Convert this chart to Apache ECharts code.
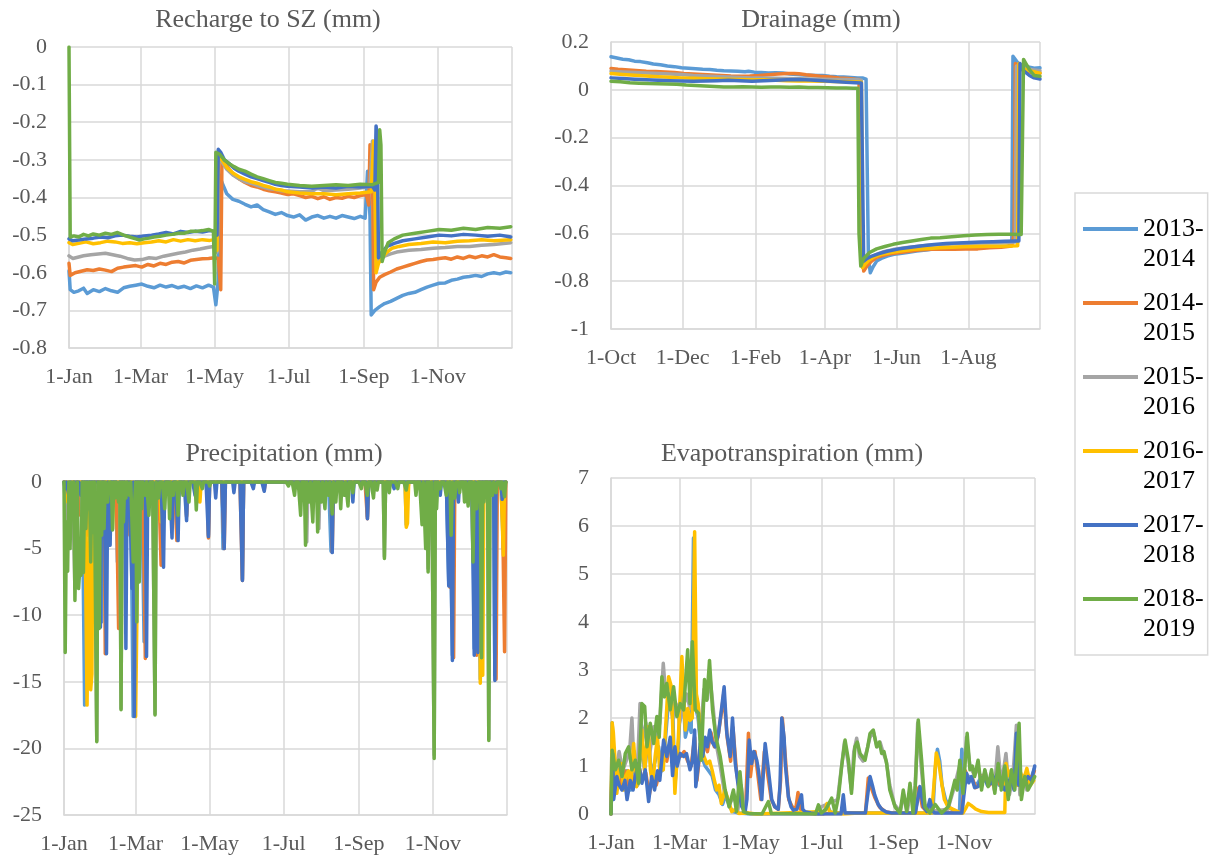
<!DOCTYPE html>
<html><head><meta charset="utf-8">
<script src="https://cdn.jsdelivr.net/npm/echarts@6/dist/echarts.min.js"></script>
<style>html,body{margin:0;padding:0;background:#fff}#c{width:1212px;height:859px}</style>
</head><body><div id="c"></div>
<script>
// ---------- categories / ticks ----------
const seasons = ['2013-2014','2014-2015','2015-2016','2016-2017','2017-2018','2018-2019'];
const seasonColors = ['#5B9BD5','#ED7D31','#A5A5A5','#FFC000','#4472C4','#70AD47'];
const calTickDays = [0,59,120,181,243,304,365];
const calTickLabels = ['1-Jan','1-Mar','1-May','1-Jul','1-Sep','1-Nov',''];
const hydTickDays = [0,61,123,182,243,304,365];
const hydTickLabels = ['1-Oct','1-Dec','1-Feb','1-Apr','1-Jun','1-Aug',''];
const chartTitles = ['Recharge to SZ (mm)','Drainage (mm)','Precipitation (mm)','Evapotranspiration (mm)'];

// ---------- Recharge to SZ: [day of year, mm] ----------
const recharge2013 = [[0,-0.595],[1,-0.645],[4,-0.652],[8,-0.648],[12,-0.641],[15,-0.655],[20,-0.645],[25,-0.650],[30,-0.642],[35,-0.648],[40,-0.652],[45,-0.640],[50,-0.636],[55,-0.633],[60,-0.630],[65,-0.636],[70,-0.640],[75,-0.633],[80,-0.638],[85,-0.634],[90,-0.640],[95,-0.636],[100,-0.642],[105,-0.635],[110,-0.640],[115,-0.633],[119,-0.638],[121,-0.685],[123,-0.62],[124,-0.34],[126,-0.36],[130,-0.39],[135,-0.405],[140,-0.41],[145,-0.418],[150,-0.425],[155,-0.42],[160,-0.432],[165,-0.438],[170,-0.445],[175,-0.440],[180,-0.448],[185,-0.452],[190,-0.446],[195,-0.46],[200,-0.452],[205,-0.448],[210,-0.455],[215,-0.45],[220,-0.455],[225,-0.448],[230,-0.452],[235,-0.456],[240,-0.45],[244,-0.455],[246,-0.33],[248,-0.45],[249,-0.712],[252,-0.70],[256,-0.69],[260,-0.682],[265,-0.676],[270,-0.668],[275,-0.66],[280,-0.655],[285,-0.652],[290,-0.645],[295,-0.638],[300,-0.633],[305,-0.628],[310,-0.627],[315,-0.62],[320,-0.617],[325,-0.612],[330,-0.61],[335,-0.607],[340,-0.610],[345,-0.603],[350,-0.60],[355,-0.603],[360,-0.598],[364,-0.60]];
const recharge2014 = [[0,-0.575],[1,-0.607],[5,-0.600],[10,-0.596],[15,-0.592],[20,-0.594],[25,-0.590],[30,-0.593],[35,-0.597],[40,-0.588],[45,-0.585],[50,-0.583],[55,-0.581],[60,-0.585],[65,-0.578],[70,-0.582],[75,-0.575],[80,-0.578],[85,-0.572],[90,-0.570],[95,-0.574],[100,-0.567],[105,-0.565],[110,-0.563],[115,-0.562],[120,-0.560],[123,-0.562],[125,-0.645],[126,-0.30],[128,-0.305],[132,-0.325],[136,-0.34],[140,-0.35],[145,-0.36],[150,-0.368],[155,-0.372],[160,-0.378],[165,-0.382],[170,-0.385],[175,-0.388],[180,-0.392],[185,-0.39],[190,-0.395],[195,-0.40],[200,-0.397],[205,-0.403],[210,-0.398],[215,-0.405],[220,-0.40],[225,-0.402],[230,-0.397],[235,-0.40],[240,-0.395],[245,-0.392],[247,-0.42],[248,-0.26],[250,-0.30],[251,-0.645],[253,-0.625],[256,-0.612],[260,-0.605],[265,-0.598],[270,-0.590],[275,-0.585],[280,-0.580],[285,-0.575],[290,-0.570],[295,-0.566],[300,-0.565],[305,-0.562],[310,-0.560],[315,-0.564],[320,-0.558],[325,-0.562],[330,-0.556],[335,-0.560],[340,-0.555],[345,-0.558],[350,-0.552],[355,-0.558],[360,-0.56],[364,-0.562]];
const recharge2015 = [[0,-0.555],[3,-0.562],[8,-0.558],[12,-0.555],[18,-0.552],[24,-0.550],[30,-0.548],[36,-0.552],[42,-0.556],[48,-0.562],[54,-0.566],[60,-0.565],[66,-0.560],[72,-0.562],[78,-0.556],[84,-0.552],[90,-0.548],[96,-0.545],[102,-0.540],[108,-0.537],[114,-0.533],[119,-0.530],[122,-0.545],[123,-0.30],[126,-0.305],[130,-0.325],[135,-0.34],[140,-0.35],[145,-0.358],[150,-0.362],[155,-0.368],[160,-0.372],[165,-0.377],[170,-0.378],[175,-0.382],[180,-0.383],[190,-0.385],[200,-0.384],[205,-0.375],[210,-0.382],[220,-0.380],[230,-0.378],[240,-0.375],[248,-0.37],[250,-0.25],[252,-0.29],[253,-0.578],[256,-0.565],[260,-0.556],[265,-0.55],[270,-0.545],[280,-0.54],[290,-0.538],[300,-0.535],[310,-0.533],[320,-0.530],[330,-0.53],[340,-0.527],[350,-0.525],[364,-0.52]];
const recharge2016 = [[0,-0.52],[3,-0.525],[8,-0.522],[14,-0.518],[20,-0.523],[26,-0.520],[32,-0.516],[38,-0.518],[44,-0.522],[50,-0.52],[56,-0.523],[62,-0.52],[68,-0.518],[74,-0.515],[80,-0.518],[86,-0.512],[92,-0.516],[98,-0.512],[104,-0.515],[110,-0.512],[116,-0.514],[120,-0.512],[122,-0.54],[123,-0.29],[126,-0.30],[130,-0.32],[135,-0.335],[140,-0.345],[145,-0.352],[150,-0.358],[155,-0.362],[160,-0.368],[165,-0.372],[170,-0.378],[175,-0.38],[180,-0.385],[190,-0.388],[200,-0.39],[210,-0.39],[220,-0.393],[230,-0.39],[240,-0.388],[249,-0.385],[251,-0.25],[252,-0.35],[253,-0.60],[255,-0.575],[258,-0.56],[262,-0.545],[266,-0.535],[272,-0.53],[280,-0.525],[290,-0.522],[300,-0.518],[310,-0.52],[320,-0.516],[330,-0.515],[340,-0.512],[350,-0.515],[364,-0.512]];
const recharge2017 = [[0,-0.51],[3,-0.515],[8,-0.513],[14,-0.51],[20,-0.508],[26,-0.505],[32,-0.507],[38,-0.502],[44,-0.50],[50,-0.503],[56,-0.505],[62,-0.502],[68,-0.50],[74,-0.497],[80,-0.493],[86,-0.497],[92,-0.49],[98,-0.493],[104,-0.49],[110,-0.492],[116,-0.488],[120,-0.49],[122,-0.50],[123,-0.272],[125,-0.28],[128,-0.30],[132,-0.31],[136,-0.322],[140,-0.33],[145,-0.338],[150,-0.345],[155,-0.35],[160,-0.355],[165,-0.36],[170,-0.365],[175,-0.368],[180,-0.37],[190,-0.372],[200,-0.375],[210,-0.372],[220,-0.375],[230,-0.37],[240,-0.372],[250,-0.37],[252,-0.38],[253,-0.21],[254,-0.24],[255,-0.56],[258,-0.545],[262,-0.53],[268,-0.522],[275,-0.515],[285,-0.51],[295,-0.505],[305,-0.50],[315,-0.502],[325,-0.498],[335,-0.50],[345,-0.503],[355,-0.50],[364,-0.505]];
const recharge2018 = [[0,0],[1,-0.505],[4,-0.502],[8,-0.505],[12,-0.498],[16,-0.502],[20,-0.497],[25,-0.500],[30,-0.495],[35,-0.498],[40,-0.493],[45,-0.500],[50,-0.505],[55,-0.51],[58,-0.513],[62,-0.51],[66,-0.508],[70,-0.505],[75,-0.503],[80,-0.50],[85,-0.498],[90,-0.495],[95,-0.495],[100,-0.49],[105,-0.49],[110,-0.488],[115,-0.485],[119,-0.49],[120,-0.63],[121,-0.28],[124,-0.285],[128,-0.30],[132,-0.31],[136,-0.318],[140,-0.325],[145,-0.33],[150,-0.338],[155,-0.345],[160,-0.35],[165,-0.355],[170,-0.36],[175,-0.362],[180,-0.365],[190,-0.368],[200,-0.37],[210,-0.368],[220,-0.366],[230,-0.368],[240,-0.365],[250,-0.366],[255,-0.36],[256,-0.22],[257,-0.26],[258,-0.57],[260,-0.545],[263,-0.52],[268,-0.51],[275,-0.50],[285,-0.495],[295,-0.49],[305,-0.485],[315,-0.487],[325,-0.482],[335,-0.485],[345,-0.48],[355,-0.482],[364,-0.478]];

// ---------- Drainage: [day from 1-Oct, mm] ----------
const drainage2013 = [[0,0.138],[5,0.133],[10,0.128],[15,0.126],[20,0.12],[25,0.118],[31,0.113],[36,0.108],[42,0.105],[48,0.1],[54,0.097],[60,0.092],[66,0.09],[72,0.088],[78,0.086],[84,0.085],[90,0.082],[96,0.08],[102,0.079],[108,0.078],[114,0.076],[117,0.078],[122,0.074],[128,0.072],[134,0.07],[140,0.071],[146,0.07],[152,0.066],[158,0.064],[164,0.062],[170,0.061],[176,0.06],[180,0.06],[186,0.057],[192,0.055],[198,0.054],[204,0.052],[210,0.05],[214,0.05],[217,0.045],[219,-0.7],[220.6,-0.765],[223,-0.74],[226,-0.716],[230,-0.705],[235,-0.695],[240.7,-0.688],[246,-0.684],[252,-0.68],[260,-0.674],[268,-0.67],[276,-0.665],[284,-0.662],[292,-0.66],[300,-0.658],[310,-0.656],[320,-0.655],[330,-0.654],[338,-0.653],[341,-0.64],[342,0.14],[345,0.12],[348,0.105],[352,0.1],[356,0.095],[360,0.09],[365,0.092]];
const drainage2014 = [[0,0.089],[6,0.086],[12,0.084],[18,0.082],[24,0.08],[30,0.078],[38,0.077],[46,0.075],[54,0.072],[62,0.068],[70,0.066],[78,0.064],[86,0.062],[94,0.06],[102,0.058],[110,0.057],[118,0.058],[126,0.06],[134,0.063],[142,0.066],[150,0.068],[156,0.068],[160,0.067],[166,0.063],[172,0.06],[178,0.057],[186,0.054],[194,0.05],[202,0.047],[208,0.044],[211,0.043],[213,-0.5],[215,-0.758],[218,-0.735],[222,-0.715],[226,-0.70],[232,-0.692],[238,-0.685],[246,-0.68],[254,-0.675],[262,-0.67],[272,-0.667],[282,-0.667],[292,-0.667],[302,-0.666],[312,-0.665],[322,-0.66],[332,-0.658],[341,-0.653],[343,-0.6],[344,0.11],[347,0.09],[352,0.08],[358,0.072],[365,0.07]];
const drainage2015 = [[0,0.078],[10,0.075],[20,0.072],[30,0.07],[40,0.068],[50,0.066],[60,0.064],[70,0.06],[80,0.058],[90,0.056],[100,0.054],[110,0.052],[120,0.05],[130,0.05],[140,0.048],[150,0.047],[160,0.046],[170,0.045],[180,0.044],[190,0.043],[200,0.043],[210,0.042],[213,0.04],[214,-0.73],[217,-0.715],[221,-0.7],[226,-0.688],[232,-0.677],[240,-0.668],[250,-0.66],[260,-0.655],[270,-0.65],[280,-0.648],[290,-0.645],[300,-0.643],[310,-0.641],[320,-0.64],[330,-0.638],[340,-0.637],[344,-0.636],[345,0.1],[350,0.09],[357,0.085],[365,0.08]];
const drainage2016 = [[0,0.068],[10,0.064],[20,0.061],[30,0.058],[40,0.055],[50,0.053],[60,0.05],[70,0.048],[80,0.046],[90,0.045],[100,0.044],[110,0.043],[120,0.042],[130,0.042],[140,0.04],[150,0.038],[160,0.037],[170,0.037],[180,0.036],[190,0.035],[200,0.034],[210,0.033],[213,0.032],[214,-0.744],[217,-0.725],[220,-0.71],[224,-0.698],[230,-0.688],[238,-0.68],[248,-0.673],[258,-0.667],[270,-0.663],[280,-0.66],[290,-0.658],[300,-0.656],[310,-0.655],[320,-0.654],[330,-0.654],[340,-0.653],[346,-0.652],[347,0.11],[350,0.09],[356,0.08],[365,0.07]];
const drainage2017 = [[0,0.05],[10,0.047],[20,0.044],[30,0.042],[40,0.04],[50,0.038],[60,0.037],[70,0.036],[80,0.037],[90,0.038],[100,0.04],[110,0.038],[120,0.036],[130,0.038],[140,0.04],[150,0.042],[160,0.043],[170,0.041],[180,0.038],[190,0.035],[200,0.032],[208,0.03],[213,0.029],[215,-0.716],[218,-0.705],[222,-0.695],[228,-0.685],[235,-0.675],[245,-0.665],[255,-0.658],[265,-0.652],[275,-0.647],[285,-0.643],[295,-0.64],[305,-0.638],[315,-0.636],[325,-0.635],[335,-0.633],[345,-0.632],[347,-0.632],[348,0.11],[351,0.08],[356,0.06],[360,0.05],[365,0.045]];
const drainage2018 = [[0,0.036],[8,0.034],[16,0.03],[24,0.028],[32,0.026],[40,0.025],[48,0.024],[56,0.023],[64,0.02],[72,0.018],[80,0.016],[88,0.014],[96,0.012],[104,0.012],[112,0.013],[120,0.012],[128,0.011],[136,0.012],[144,0.012],[152,0.011],[160,0.012],[168,0.01],[176,0.01],[184,0.009],[192,0.008],[200,0.008],[206,0.007],[210,0.007],[211,-0.6],[212.5,-0.737],[215,-0.705],[220,-0.68],[226,-0.665],[233,-0.655],[240,-0.646],[248,-0.638],[256,-0.632],[264,-0.626],[272,-0.62],[280,-0.618],[290,-0.614],[300,-0.61],[310,-0.607],[320,-0.605],[330,-0.604],[340,-0.604],[349,-0.605],[350,-0.6],[351,0.127],[353,0.11],[356,0.085],[360,0.06],[365,0.057]];

// ---------- Precipitation: rainy days only [day of year, mm], other days are 0 ----------
const precip2013 = [[5,-1],[10,-2],[17,-16.75],[25,-3],[31,-10.5],[38,-4],[44,-6],[57,-17.6],[66,-12],[81,-6],[93,-4],[101,-2.5],[119,-4],[131,-5],[147,-7.3],[220,-5.2],[250,-2.6],[282,-3.2],[317,-7.5],[320,-13],[338,-12.5],[343,-14.8],[355,-14.5],[362,-5]];
const precip2014 = [[4,-1.5],[12,-2.5],[20,-4],[34,-12.9],[45,-11],[52,-4],[67,-13.25],[80,-6.25],[90,-2],[93,-4.4],[101,-2.6],[119,-4.2],[132,-5],[147,-7.4],[165,-0.6],[221,-5.25],[250,-2.75],[283,-1],[318,-7.9],[321,-13.2],[340,-13],[356,-14.8],[363,-12.75]];
const precip2015 = [[2,-3],[9,-8],[16,-5],[27,-19.4],[35,-3],[47,-17],[60,-8],[75,-17.4],[88,-2],[110,-1.5],[200,-4.5],[210,-3.5],[264,-5.6],[300,-6.5],[305,-20.5],[337,-5.8],[344,-13],[350,-19.3]];
const precip2016 = [[3,-1.5],[6,-2],[19,-16.75],[20,-8],[22,-15.6],[23,-14.4],[40,-3.5],[50,-1.2],[58,-13.2],[59,-17.6],[60,-10.5],[70,-1.5],[80,-3],[100,-1],[112,-1.5],[200,-0.5],[282,-3.4],[283,-3.1],[343,-15.1],[345,-14.5],[362,-5.5]];
const precip2017 = [[1,-0.5],[4,-1],[7,-2],[14,-1],[30,-10.9],[35,-12.9],[38,-4.75],[45,-1],[51,-12.5],[56,-8],[58,-17.6],[68,-13.1],[75,-2],[82,-6.4],[89,-4.2],[94,-4.4],[101,-2.9],[108,-1],[119,-4.1],[125,-1.2],[132,-5],[140,-0.8],[147,-7.4],[156,-0.5],[165,-0.7],[221,-5.3],[232,-1],[238,-1.5],[250,-2.75],[265,-0.8],[272,-0.5],[296,-1.5],[303,-3],[310,-1],[317,-7.8],[320,-13.4],[325,-1.5],[338,-13],[341,-12.8],[355,-14.9],[361,-1.3]];
const precip2018 = [[1,-12.8],[2,-3],[3,-6.7],[5,-5],[7,-2],[9,-8.9],[10,-4],[12,-8],[13,-6.5],[14,-7],[16,-6.8],[18,-3.5],[20,-2],[22,-6],[24,-3.8],[27,-19.5],[29,-11],[31,-4],[33,-3.5],[36,-1.5],[40,-3.6],[42,-1.2],[45,-1.5],[47,-17.1],[49,-3],[51,-1.2],[54,-1],[57,-6],[58,-2],[60,-10.5],[62,-7.5],[64,-2],[67,-1],[70,-2.5],[72,-1.5],[75,-17.5],[78,-1.2],[83,-2],[87,-2.75],[90,-1],[94,-2.5],[98,-1],[103,-1.5],[109,-2.1],[114,-0.5],[120,-0.3],[185,-0.3],[190,-1],[195,-2.5],[199,-4.75],[202,-1.5],[205,-3],[209,-3.75],[212,-1.5],[215,-2],[218,-1],[221,-2.4],[224,-1.5],[228,-2],[231,-1],[234,-1.8],[238,-0.8],[245,-0.5],[250,-1],[255,-1.2],[258,-0.6],[264,-5.75],[268,-0.8],[275,-0.5],[282,-0.6],[290,-1],[295,-3.2],[298,-5],[300,-6.75],[302,-3],[305,-20.75],[307,-2],[310,-0.5],[315,-1],[319,-4],[322,-1.2],[326,-0.8],[330,-1.5],[333,-1.8],[337,-6],[340,-2],[344,-13.2],[346,-1.5],[350,-19.4],[353,-1],[356,-0.8],[360,-0.5],[363,-1.1]];

// ---------- Evapotranspiration: [day of year, mm] ----------
const et2013 = [[0,0],[1,1.9],[3,0.8],[5,0.5],[8,0.9],[11,0.6],[14,0.9],[17,0.5],[20,1.3],[23,0.6],[26,1.5],[29,0.9],[32,1.6],[35,0.8],[38,1.1],[41,1.4],[44,0.9],[47,1.6],[50,2.5],[53,2.3],[55,0.6],[58,1.4],[61,3.0],[64,1.6],[67,1.9],[69,1.7],[71,5.75],[73,2.2],[75,2.0],[78,1.2],[81,1.0],[84,0.9],[87,0.8],[90,0.5],[93,0.4],[96,0.2],[99,0.4],[102,0.15],[105,0.05],[110,0.02],[120,0],[183,0],[186,0.2],[189,0.03],[220,0.02],[277,0.02],[279,0.9],[281,1.35],[283,1.1],[285,0.6],[288,0.3],[292,0.12],[297,0.05],[300,0.05],[302,1.35],[304,0.9],[307,0.8],[310,0.75],[313,0.6],[316,0.65],[319,0.8],[322,0.7],[325,0.6],[328,0.75],[331,0.8],[334,0.6],[337,0.6],[340,0.7],[343,0.65],[346,0.6],[349,0.75],[352,0.65],[355,0.7],[358,0.75],[361,0.7],[364.5,0.95]];
const et2014 = [[0,0],[1,1.1],[3,0.5],[6,0.8],[9,0.6],[12,0.9],[15,0.6],[18,0.8],[21,0.6],[24,1.0],[27,0.7],[30,0.85],[33,0.4],[36,0.8],[39,0.6],[42,0.9],[45,1.4],[48,1.1],[51,1.5],[54,1.2],[57,1.3],[60,1.2],[63,1.3],[66,1.1],[69,1.0],[72,1.6],[74,0.7],[77,1.4],[80,1.5],[83,1.3],[86,1.7],[89,1.4],[92,1.6],[95,2.1],[97,2.5],[100,1.6],[103,1.1],[105,1.8],[108,0.9],[111,0.4],[114,0.1],[116,0.2],[118.3,1.68],[120,0.78],[122,1.2],[124,1.3],[126,0.9],[129,0.3],[132,1.3],[135,0.8],[138,0.3],[141,0.15],[144,0.1],[146,0.7],[147.5,2.0],[149,1.5],[151,0.9],[153,0.3],[156,0.15],[159,0.1],[161,0.45],[163,0.1],[167,0.03],[175,0],[219,0.02],[221.5,0.75],[224,0.55],[227,0.35],[231,0.15],[236,0.05],[242,0.02],[262,0.02],[265,0.55],[268,0.15],[272,0.05],[275,0.25],[278,0.03],[302,0.03],[305,0.9],[308,0.7],[311,0.75],[314,0.55],[317,0.6],[320,0.8],[323,0.7],[326,0.6],[329,0.75],[332,0.8],[335,0.6],[338,0.55],[341,0.7],[344,0.65],[347,0.55],[350,0.75],[353,0.65],[356,0.6],[359,0.8],[362,0.75],[364.5,0.9]];
const et2015 = [[0,0],[1,1.0],[4,0.8],[7,1.3],[10,0.9],[13,1.1],[16,1.3],[18,2.0],[20,0.9],[23,1.1],[25,2.3],[27,1.5],[30,1.9],[33,1.2],[36.7,1.82],[39,1.5],[42,1.9],[45,3.14],[47,2.5],[50,2.4],[53,2.0],[56,2.3],[59,1.9],[62,2.2],[65,2.5],[68,2.2],[71,2.8],[74,2.3],[77,1.6],[80,2.6],[83,2.4],[85,2.9],[88,2.2],[91,1.4],[94,1.0],[98,0.4],[102,0.2],[106,0.4],[109,0.05],[112,0.6],[115,0.05],[120,0],[178,0],[181,0.15],[190,0.25],[195,0.3],[198,0.9],[201,1.5],[204,1.1],[207,0.5],[209,1.3],[211.5,1.58],[214,1.2],[217,1.1],[220,1.3],[223,1.6],[226,1.7],[229,1.4],[231.6,1.5],[234,1.3],[237,1.1],[240,0.6],[244,0.2],[249,0.05],[252,0.4],[255,0.05],[258,0.5],[261,0.05],[264,1.9],[267,1.0],[270,0.2],[275,0.05],[290,0.1],[296,0.6],[300,1.0],[303,0.5],[306,1.6],[309,1.0],[313,0.8],[316,1.0],[319,0.6],[322,0.9],[325,0.6],[328,0.8],[330,0.5],[333,1.4],[336,0.6],[340,1.26],[343,0.4],[346,0.8],[349,1.85],[352,0.4],[355,0.8],[358,0.5],[361,0.7],[364,0.75]];
const et2016 = [[0,0],[1,1.9],[2,1.7],[4,0.9],[5,0.43],[7,0.9],[9,1.05],[11,0.5],[13,0.8],[15,0.9],[17,0.6],[19.5,1.47],[22,0.57],[24,0.9],[26.6,1.75],[29,0.9],[32,1.82],[34,0.9],[36,0.6],[38,1.2],[40,1.6],[42,0.9],[45,0.92],[47,1.8],[49.6,2.86],[52,2.65],[55,0.43],[58,1.6],[61,3.28],[64,1.75],[66,2.2],[68,1.95],[70,2.0],[72,5.88],[73.5,2.5],[75,2.3],[78,1.4],[80,1.2],[82.5,1.05],[85,1.1],[87,0.92],[89,0.7],[91,0.5],[93,0.6],[95,0.22],[98,0.5],[100,0.36],[102,0.2],[104,0.05],[107,0.1],[110,0.01],[118,0.02],[125,0],[184,0.05],[186,0.22],[188,0.05],[200,0],[213,0.02],[260,0.02],[276,0.02],[278,0.6],[280,1.27],[282,1.1],[283,0.92],[285,0.6],[287,0.3],[290,0.15],[296,0.08],[300,0.03],[303,0.02],[305,0.1],[307.5,0.22],[310,0.18],[314,0.1],[319,0.05],[325,0.03],[339,0.03],[340,1.05],[342,0.8],[344,0.9],[347,0.75],[350,0.6],[352,0.9],[355,0.7],[358,0.95],[361,0.6],[364,0.7]];
const et2017 = [[0,0],[1.4,1.26],[2.3,0.3],[5,0.78],[7,0.6],[9.5,0.5],[12,0.7],[13.8,0.3],[16.6,0.7],[19,0.5],[21,0.8],[23.8,1.05],[26.6,0.64],[29.5,0.92],[32.4,0.26],[35,0.78],[37.5,0.5],[40,0.9],[42,0.7],[45.3,1.54],[48,1.2],[51,1.6],[53,0.8],[55,1.4],[57,1.0],[59.6,1.26],[62.5,1.2],[65,1.26],[68,0.92],[70,1.1],[72,1.75],[73,0.57],[75,1.0],[76.8,1.47],[79,1.2],[81,1.6],[83,1.4],[85,1.75],[87,1.5],[89.7,1.4],[92.5,1.68],[95.4,2.24],[97.4,2.65],[99.7,1.68],[102.6,1.2],[104.6,2.0],[107,1.05],[110,0.5],[112.6,0.15],[115.5,0.05],[117,0.3],[119,1.54],[121,1.05],[123,1.3],[125.5,1.12],[127,0.9],[129.8,0.3],[132.7,1.47],[135.5,0.92],[138.4,0.3],[141,0.15],[144,0.1],[145.5,0.6],[147,2.0],[149,1.6],[150,1.05],[152.7,0.36],[155,0.15],[157,0.08],[160,0.1],[164,0.4],[165,0.1],[167,0.05],[172,0.02],[178.5,0],[198,0],[200,0.4],[201.5,0.02],[219,0.02],[223,0.78],[225,0.6],[227,0.4],[230,0.2],[233,0.1],[237,0.04],[241.6,0.02],[262,0.02],[266,0.57],[269,0.15],[272,0.05],[274.5,0.3],[277,0.05],[279,0.02],[302,0.02],[306,0.85],[308,0.65],[310.4,0.78],[313,0.55],[316,0.57],[319,0.75],[321.8,0.78],[324,0.6],[327.5,0.64],[330,0.72],[333,0.85],[336,0.6],[339,0.5],[342,0.7],[344.7,0.7],[347,0.5],[349,1.68],[351,0.6],[354,0.7],[356,0.65],[359,0.78],[362,0.7],[364.8,1.0]];
const et2018 = [[0,0],[1,1.33],[3.7,0.92],[6.6,1.12],[9.5,0.78],[12.3,1.26],[15.2,1.4],[18,0.92],[21,1.12],[23.8,0.64],[26.6,2.3],[29,2.24],[31,1.4],[33.8,1.89],[36.7,1.47],[39.5,2.03],[41.5,1.6],[43.8,2.86],[46,2.44],[48,2.72],[51,2.17],[53.9,2.65],[56.7,2.03],[59.6,2.3],[62.5,2.17],[66,3.42],[68,2.3],[70,3.59],[72.5,2.17],[75.4,2.1],[77.7,1.12],[80.5,2.8],[82.5,2.37],[84.8,3.2],[87.4,2.17],[90.3,1.6],[94,1.2],[98.3,0.5],[101.7,0.15],[105.4,0.5],[108,0.05],[111,0.88],[114,0.05],[118,0.01],[130,0],[135.5,0.26],[138,0.01],[176,0],[178.6,0.19],[181,0.02],[185,0.1],[190,0.33],[193,0.02],[195.8,0.36],[198.6,1.0],[201.5,1.54],[204.4,1.12],[207,0.43],[210,1.4],[212,1.5],[214.4,1.26],[216,1.3],[218.7,1.12],[221,1.4],[223,1.68],[225.8,1.75],[228.7,1.4],[231,1.5],[233,1.26],[235,1.3],[237.3,1.05],[240,0.5],[244.5,0.15],[248.8,0.02],[251.6,0.5],[254.5,0.05],[257.4,0.64],[260,0.02],[262,0.6],[264.5,1.96],[267.4,1.12],[270.3,0.15],[274.5,0.02],[279,0.2],[284.6,0.02],[290.3,0.15],[293,0.4],[296,0.7],[298,0.5],[300.3,1.12],[303,0.43],[306.6,1.68],[309,0.92],[311,1.0],[313,0.78],[316,1.12],[319,0.5],[321.8,0.92],[324.7,0.57],[327.6,0.92],[330.4,0.43],[333.3,1.05],[336,0.5],[339,1.0],[342,0.3],[344.7,0.92],[347.6,0.5],[351.3,1.89],[353.3,0.3],[356.2,0.78],[359,0.5],[362,0.64],[364.8,0.78]];

// ---------- build ----------
const rechargeSets = [recharge2013,recharge2014,recharge2015,recharge2016,recharge2017,recharge2018];
const drainageSets = [drainage2013,drainage2014,drainage2015,drainage2016,drainage2017,drainage2018];
const precipSets = [precip2013,precip2014,precip2015,precip2016,precip2017,precip2018];
const etSets = [et2013,et2014,et2015,et2016,et2017,et2018];

function dailyFromRainDays(rain) {
  const days = new Array(365).fill(0);
  rain.forEach(([d, v]) => { days[d] = v; });
  return days.map((v, i) => [i, v]);
}

const FONT = 'Liberation Serif, Times New Roman, serif';
const GRID_C = '#d9d9d9';

function xAxisFor(idx, tickDays, tickLabels) {
  return {
    type: 'value', gridIndex: idx, min: 0, max: 365,
    axisLine: { show: true, onZero: false, lineStyle: { color: GRID_C, width: 1.5 } },
    axisTick: { show: false, customValues: tickDays },
    splitLine: { show: true, lineStyle: { color: GRID_C, width: 1.5 } },
    axisLabel: {
      customValues: tickDays.slice(0, 6),
      formatter: v => tickLabels[tickDays.indexOf(v)],
      margin: 18, fontFamily: FONT, fontSize: 22, color: '#595959'
    }
  };
}
function yAxisFor(idx, min, max, interval) {
  return {
    type: 'value', gridIndex: idx, min, max, interval,
    axisLine: { show: true, onZero: false, lineStyle: { color: GRID_C, width: 1.5 } },
    axisTick: { show: false },
    splitLine: { show: true, lineStyle: { color: GRID_C, width: 1.5 } },
    axisLabel: { margin: 22, fontFamily: FONT, fontSize: 22, color: '#595959' }
  };
}
function lineSeries(idx, k, data, w) {
  return {
    type: 'line', name: seasons[k], xAxisIndex: idx, yAxisIndex: idx, data,
    symbol: 'none', showSymbol: false, silent: true, animation: false,
    color: seasonColors[k],
    lineStyle: { width: w, color: seasonColors[k], join: 'round', cap: 'round' },
    emphasis: { disabled: true }
  };
}

const series = [];
rechargeSets.forEach((d, k) => series.push(lineSeries(0, k, d, 3.5)));
drainageSets.forEach((d, k) => series.push(lineSeries(1, k, d, 3.5)));
precipSets.forEach((d, k) => series.push(lineSeries(2, k, dailyFromRainDays(d), 3.5)));
etSets.forEach((d, k) => series.push(lineSeries(3, k, d, 3.5)));

const titleCenters = [[268, 20], [821, 20], [284, 454], [792, 454]];

const option = {
  backgroundColor: '#fff',
  animation: false,
  grid: [
    { left: 69, top: 47, width: 443, height: 301 },
    { left: 611, top: 42, width: 429, height: 287 },
    { left: 64, top: 482, width: 443, height: 333 },
    { left: 611, top: 478, width: 424, height: 336 }
  ],
  xAxis: [
    xAxisFor(0, calTickDays, calTickLabels),
    xAxisFor(1, hydTickDays, hydTickLabels),
    xAxisFor(2, calTickDays, calTickLabels),
    xAxisFor(3, calTickDays, calTickLabels)
  ],
  yAxis: [
    yAxisFor(0, -0.8, 0, 0.1),
    yAxisFor(1, -1, 0.2, 0.2),
    yAxisFor(2, -25, 0, 5),
    yAxisFor(3, 0, 7, 1)
  ],
  graphic: chartTitles.map((t, i) => ({
    type: 'text', x: titleCenters[i][0], y: titleCenters[i][1], silent: true,
    style: { text: t, fontFamily: FONT, fontSize: 26, fill: '#595959', align: 'center', verticalAlign: 'middle' }
  })),
  legend: {
    orient: 'vertical', left: 1075, top: 193,
    icon: 'rect', itemWidth: 55, itemHeight: 4, itemGap: -16,
    padding: [-9, 4, 11, 8],
    borderColor: GRID_C, borderWidth: 1.5,
    data: seasons,
    formatter: n => '\n' + n.replace('-', '-\n'),
    textStyle: { fontFamily: FONT, fontSize: 26, color: '#000', lineHeight: 30 },
    selectedMode: false
  },
  series
};
const chart = echarts.init(document.getElementById('c'), null, { renderer: 'canvas' });
chart.setOption(option);
</script>
</body></html>
